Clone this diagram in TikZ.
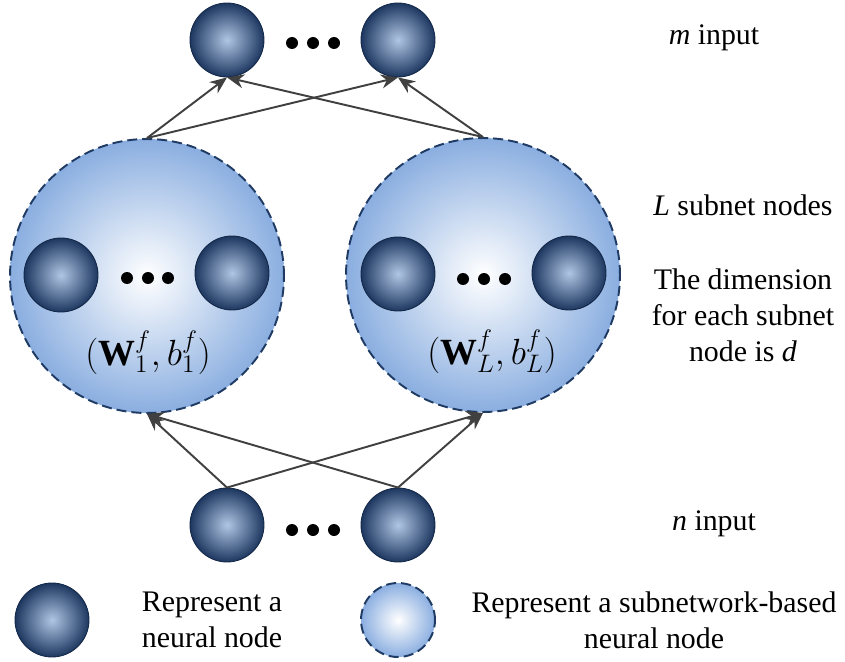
\documentclass[tikz,border=0pt]{standalone}
\usepackage{fontspec}
\setmainfont{Liberation Serif}
\usetikzlibrary{arrows.meta}
\definecolor{ballin}{HTML}{B0C6E4}
\definecolor{ballout}{HTML}{1D3760}
\definecolor{balledge}{HTML}{142848}
\definecolor{subout}{HTML}{8AAEE0}
\definecolor{subedge}{HTML}{1F3A63}
\definecolor{linkgray}{HTML}{404040}
\begin{document}
\begin{tikzpicture}[x=0.02cm,y=-0.02cm,
  neuron/.style={circle,minimum size=1.48cm,inner sep=0pt,draw=balledge,line width=0.5pt,inner color=ballin,outer color=ballout},
  subnet/.style={circle,minimum size=5.48cm,inner sep=0pt,draw=subedge,line width=1.1pt,dash pattern=on 0.2cm off 0.1cm,inner color=white,outer color=subout},
  link/.style={draw=linkgray,line width=1.1pt,-{Stealth[length=0.34cm,width=0.28cm]}},
  txt/.style={font=\fontsize{17}{20.5}\selectfont,align=center},
  para/.style={font=\fontsize{21}{24}\selectfont}]
\useasboundingbox (0,0) rectangle (845,662);
\node[neuron] (m1) at (227,40) {};
\node[neuron] (m2) at (398,40) {};
\node[subnet] (sub1) at (147,276) {};
\node[subnet] (sub2) at (483,275) {};
\node[neuron] (sub1a) at (61,275) {};
\node[neuron] (sub1b) at (232,273) {};
\node[neuron] (sub2a) at (398,274) {};
\node[neuron] (sub2b) at (569,273) {};
\node[para] (w1) at (148,353) {$(\mathbf{W}_1^f, b_1^f)$};
\node[para] (wL) at (492,352) {$(\mathbf{W}_L^f, b_L^f)$};
\node[neuron] (n1) at (227,525) {};
\node[neuron] (n2) at (398,525) {};
\foreach \x in {292,313,334} \fill (\x,43) circle (6);
\foreach \x in {127,148,168} \fill (\x,278) circle (6);
\foreach \x in {463,484,505} \fill (\x,279) circle (6);
\foreach \x in {292,313,334} \fill (\x,530) circle (6);
\draw[link] (n1.north) -- (sub1.south);
\draw[link] (n1.north) -- (sub2.south);
\draw[link] (n2.north) -- (sub1.south);
\draw[link] (n2.north) -- (sub2.south);
\draw[link] (sub1.north) -- (m1.south);
\draw[link] (sub1.north) -- (m2.south);
\draw[link] (sub2.north) -- (m1.south);
\draw[link] (sub2.north) -- (m2.south);
\node[txt] (tm) at (714,38) {\textit{m} input};
\node[txt] (tL) at (743,205) {\textit{L} subnet nodes};
\node[txt] (td) at (743,315) {The dimension\\for each subnet\\node is \textit{d}};
\node[txt] (tn) at (714,524) {\textit{n} input};
\node[neuron] (lg1) at (52,620) {};
\node[txt] (lt1) at (212,620) {Represent a\\neural node};
\node[subnet,minimum size=1.48cm] (lg2) at (398,620) {};
\node[txt] (lt2) at (654,620) {Represent a subnetwork-based\\neural node};
\end{tikzpicture}
\end{document}
